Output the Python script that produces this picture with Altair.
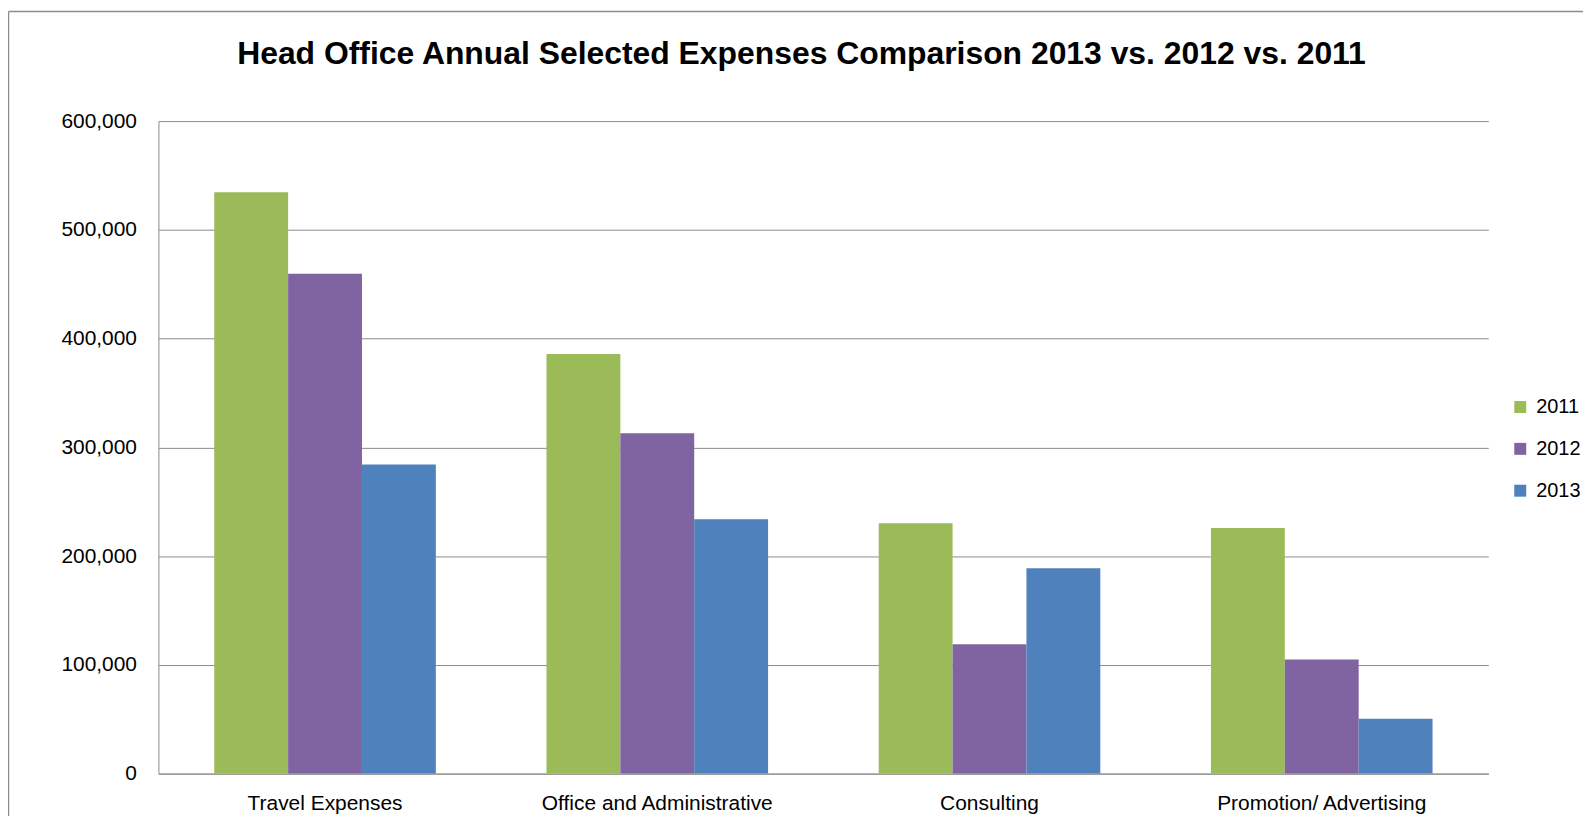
import altair as alt
import pandas as pd

categories = ["Travel Expenses", "Office and Administrative", "Consulting", "Promotion/ Advertising"]
years = ["2011", "2012", "2013"]
v2011 = [534500, 385800, 230300, 225800]
v2012 = [459600, 313000, 119000, 104900]
v2013 = [284200, 233900, 188800, 50400]
colors = ["#9BBB59", "#8064A2", "#4F81BD"]
y_ticks = [0, 100000, 200000, 300000, 400000, 500000, 600000]

rows = []
for yr, vals in zip(years, [v2011, v2012, v2013]):
    for c, v in zip(categories, vals):
        rows.append({"category": c, "year": yr, "value": v})
df = pd.DataFrame(rows)

FONT = "Liberation Sans"

bars = alt.Chart(df).mark_bar().encode(
    x=alt.X("category:N", sort=categories,
            scale=alt.Scale(paddingInner=0.333, paddingOuter=0.168),
            axis=alt.Axis(title=None, labelAngle=0, ticks=False, labelFontSize=21,
                          labelColor="#000000", labelFont=FONT, labelPadding=19,
                          labelLimit=500,
                          domainColor="#8c8c8c", domainWidth=1, grid=False)),
    xOffset=alt.XOffset("year:N", sort=years, scale=alt.Scale(paddingInner=0, paddingOuter=0)),
    y=alt.Y("value:Q", scale=alt.Scale(domain=[0, 600000], nice=False),
            axis=alt.Axis(title=None, values=y_ticks, format=",.0f", ticks=False,
                          labelFontSize=21, labelColor="#000000", labelFont=FONT,
                          labelPadding=22, domainColor="#8c8c8c", domainWidth=1,
                          gridColor="#8c8c8c", gridWidth=1)),
    color=alt.Color("year:N", sort=years,
                    scale=alt.Scale(domain=years, range=colors),
                    legend=alt.Legend(title=None, orient="none", legendX=1357, legendY=277,
                                      symbolType="square", symbolSize=144, symbolStrokeWidth=0,
                                      labelFontSize=20, labelFont=FONT, labelColor="#000000",
                                      rowPadding=22, labelOffset=6)),
)

border = alt.Chart(pd.DataFrame({"a": [0]})).mark_rule(color="#8c8c8c", strokeWidth=1.5).encode(
    x=alt.value(-150.5), y=alt.value(-110), y2=alt.value(720)
)
border_top = alt.Chart(pd.DataFrame({"a": [0]})).mark_rule(color="#8c8c8c", strokeWidth=1.5).encode(
    x=alt.value(-150.5), x2=alt.value(1450), y=alt.value(-110)
)

chart = alt.layer(border, border_top, bars).properties(
    width=1335,
    height=655,
    padding={"left": 151, "top": 112, "right": 95, "bottom": 41},
    autosize=alt.AutoSizeParams(type="none"),
    title=alt.TitleParams(
        "Head Office Annual Selected Expenses Comparison 2013 vs. 2012 vs. 2011",
        font=FONT, fontSize=32, fontWeight="bold", color="#000000",
        anchor="middle", frame="group", offset=0, baseline="alphabetic", dy=85, dx=-22,
    ),
).configure_view(stroke=None)

chart.save("out.html", embed_options={"renderer": "svg", "actions": False})
